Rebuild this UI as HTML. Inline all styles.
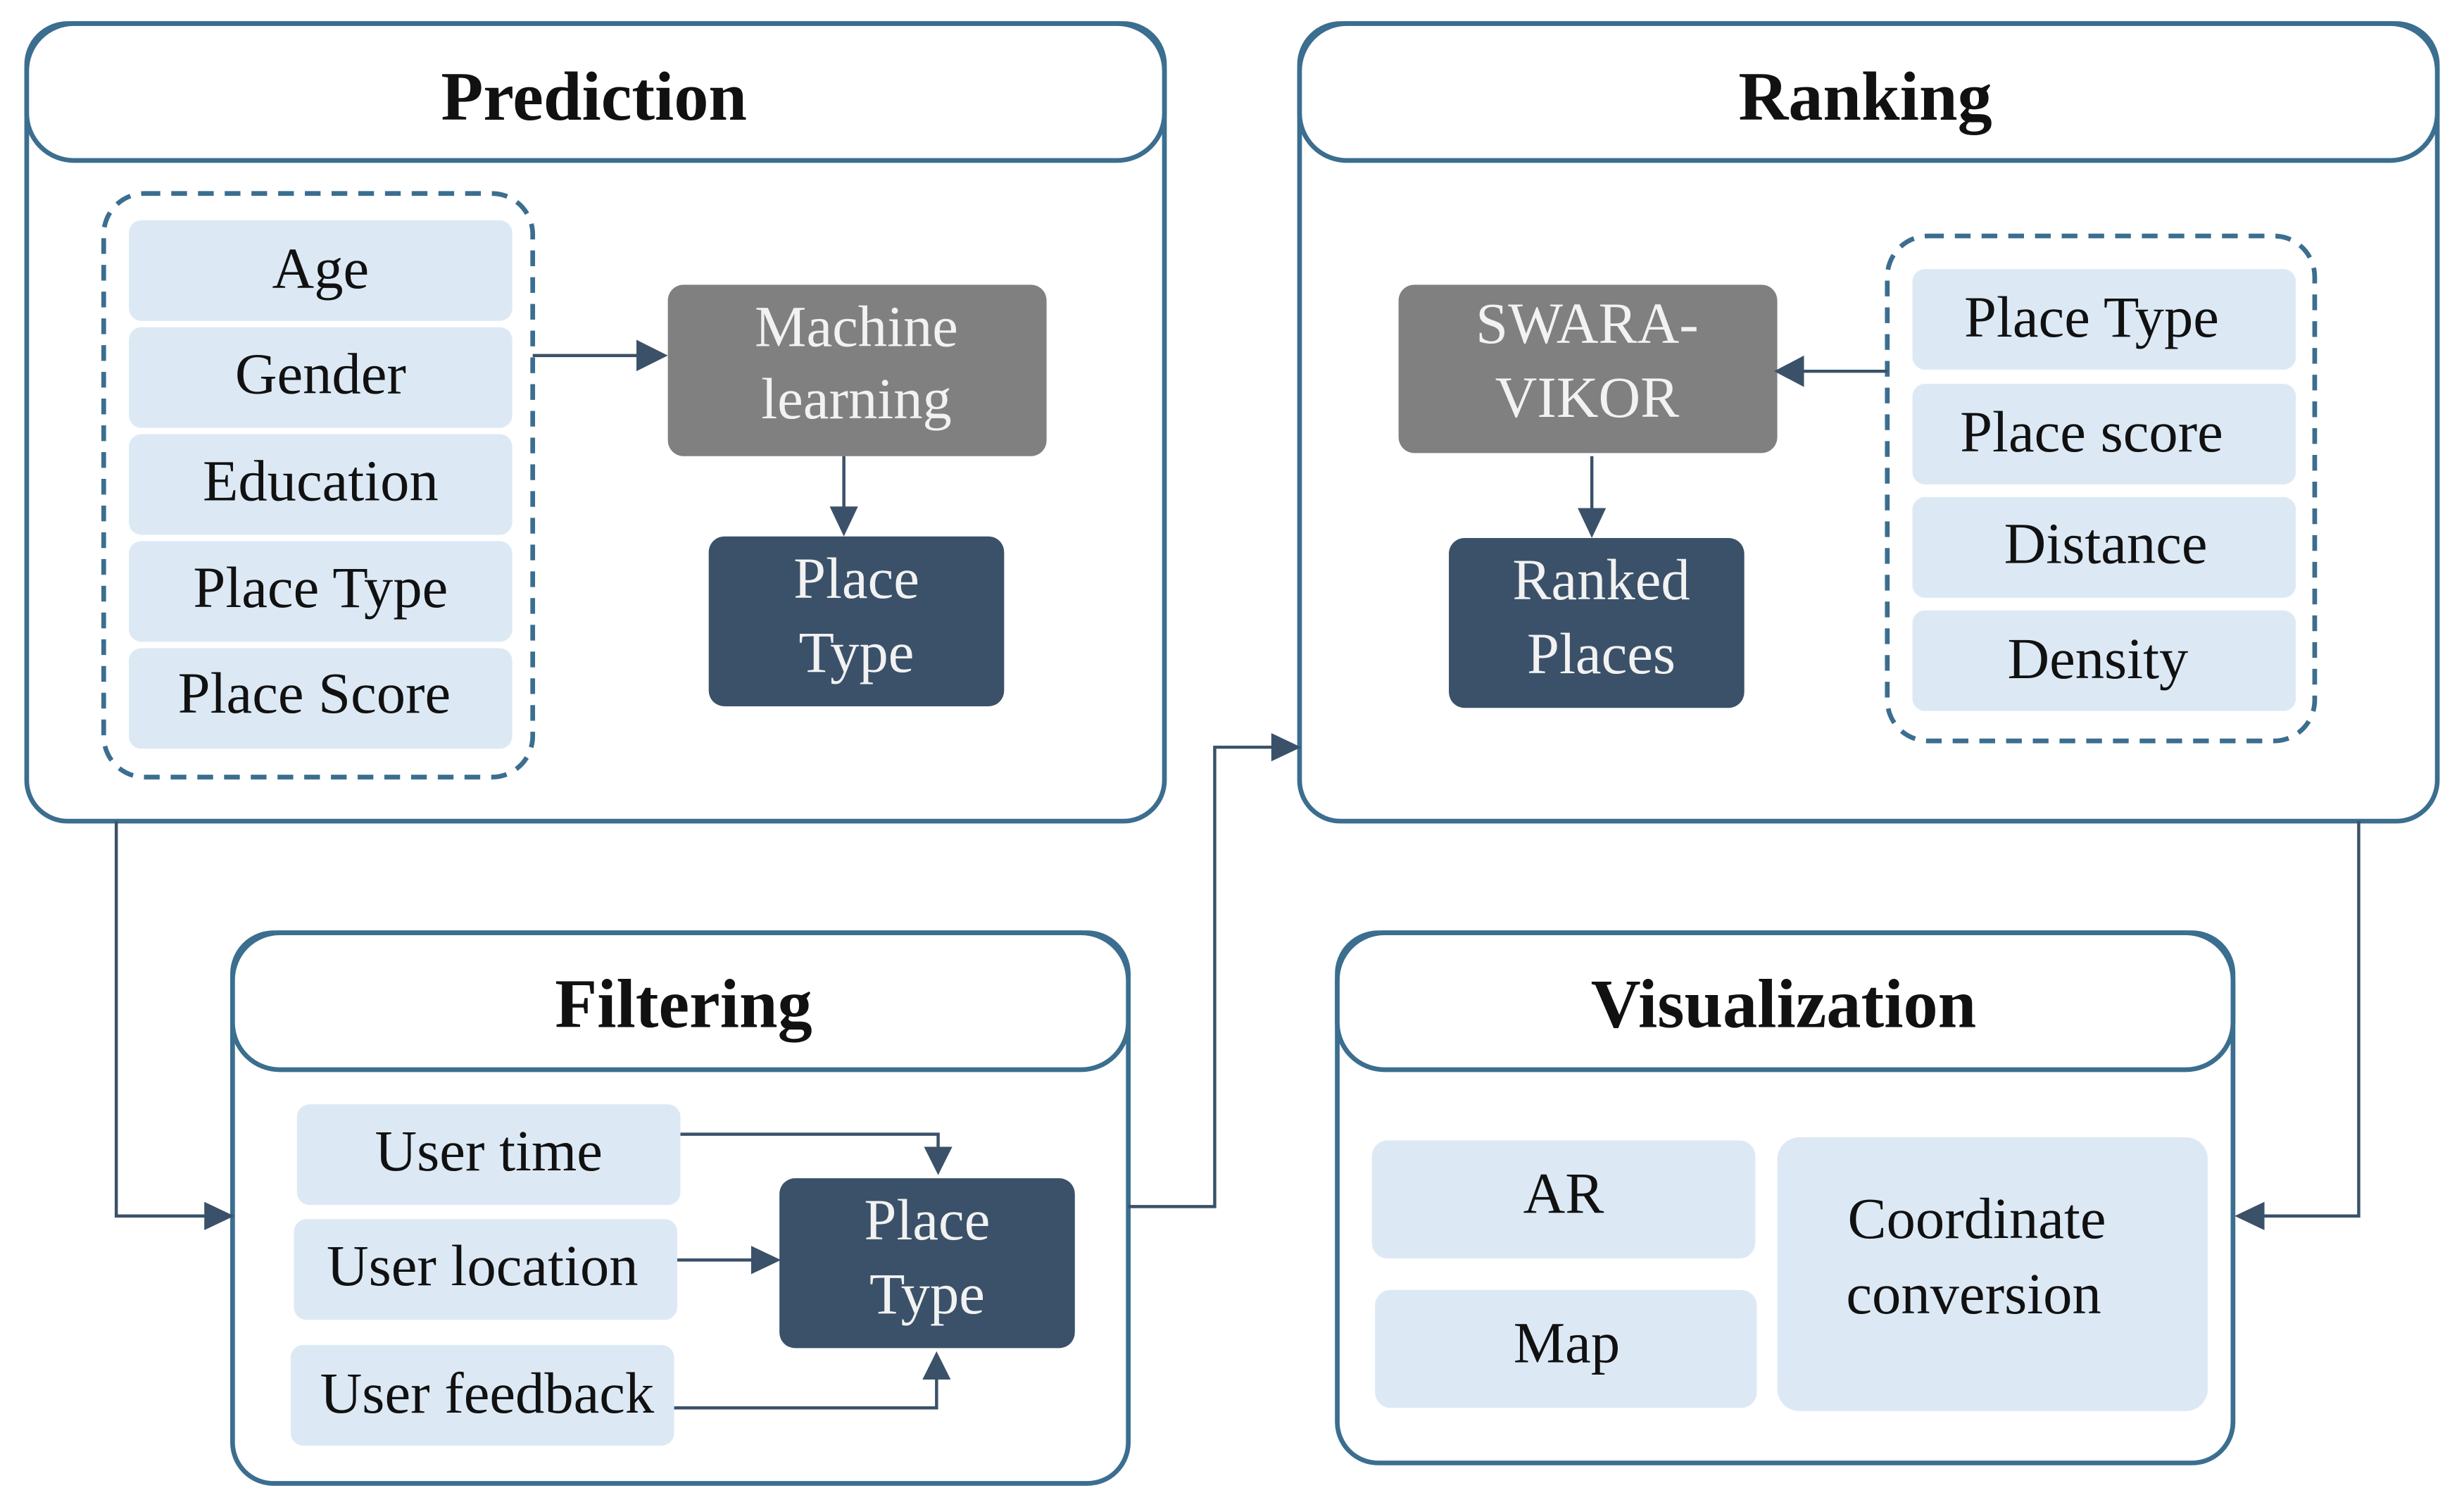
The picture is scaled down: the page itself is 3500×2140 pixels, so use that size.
<!DOCTYPE html>
<html><head><meta charset="utf-8"><style>
html,body{margin:0;padding:0;background:#fff;}
svg{display:block;}
text{font-family:"Liberation Serif","DejaVu Serif",serif;}
.t{font-size:37px;fill:#111;text-anchor:middle;}
.w{font-size:37px;fill:#f2f2f2;text-anchor:middle;}
.h{font-size:44px;font-weight:bold;fill:#111;text-anchor:middle;}
.p{fill:#fff;stroke:#3b6e8f;stroke-width:3;}
.i{fill:#dce9f5;}
.g{fill:#808080;}
.d{fill:#3b5169;}
.ds{fill:none;stroke:#3b6e8f;stroke-width:3;stroke-dasharray:10,7;}
.l{fill:none;stroke:#3b5169;stroke-width:2;}
.a{fill:#3b5169;}
</style></head><body>
<svg width="3500" height="2140" viewBox="0 0 1568 958" preserveAspectRatio="none" xmlns="http://www.w3.org/2000/svg">
<!-- Prediction -->
<rect class="p" x="17" y="15" width="724" height="507" rx="26"/>
<rect class="p" x="17" y="15" width="724" height="87" rx="30"/>
<text class="h" x="378" y="76">Prediction</text>
<rect class="ds" x="66" y="123" width="273" height="371" rx="26"/>
<rect class="i" x="82" y="140" width="244" height="64" rx="8"/><text class="t" x="204" y="183">Age</text>
<rect class="i" x="82" y="208" width="244" height="64" rx="8"/><text class="t" x="204" y="250">Gender</text>
<rect class="i" x="82" y="276" width="244" height="64" rx="8"/><text class="t" x="204" y="318">Education</text>
<rect class="i" x="82" y="344" width="244" height="64" rx="8"/><text class="t" x="204" y="386">Place Type</text>
<rect class="i" x="82" y="412" width="244" height="64" rx="8"/><text class="t" x="200" y="453">Place Score</text>
<rect class="g" x="425" y="181" width="241" height="109" rx="10"/>
<text class="w" x="545" y="220">Machine</text><text class="w" x="545" y="266">learning</text>
<rect class="d" x="451" y="341" width="188" height="108" rx="10"/>
<text class="w" x="545" y="380">Place</text><text class="w" x="545" y="427">Type</text>
<line class="l" x1="339" y1="226" x2="408" y2="226"/><polygon class="a" points="425,226 405,216 405,236"/>
<line class="l" x1="537" y1="290" x2="537" y2="325"/><polygon class="a" points="537,341 528,322 546,322"/>
<!-- Ranking -->
<rect class="p" x="827" y="15" width="724" height="507" rx="26"/>
<rect class="p" x="827" y="15" width="724" height="87" rx="30"/>
<text class="h" x="1187" y="76">Ranking</text>
<rect class="g" x="890" y="181" width="241" height="107" rx="10"/>
<text class="w" x="1010" y="218">SWARA-</text><text class="w" x="1010" y="265">VIKOR</text>
<rect class="d" x="922" y="342" width="188" height="108" rx="10"/>
<text class="w" x="1019" y="381">Ranked</text><text class="w" x="1019" y="428">Places</text>
<rect class="ds" x="1201" y="150" width="272" height="321" rx="26"/>
<rect class="i" x="1217" y="171" width="244" height="64" rx="8"/><text class="t" x="1331" y="214">Place Type</text>
<rect class="i" x="1217" y="244" width="244" height="64" rx="8"/><text class="t" x="1331" y="287">Place score</text>
<rect class="i" x="1217" y="316" width="244" height="64" rx="8"/><text class="t" x="1340" y="358">Distance</text>
<rect class="i" x="1217" y="388" width="244" height="64" rx="8"/><text class="t" x="1335" y="431">Density</text>
<line class="l" x1="1201" y1="236" x2="1145" y2="236"/><polygon class="a" points="1129,236 1148,226 1148,246"/>
<line class="l" x1="1013" y1="290" x2="1013" y2="326"/><polygon class="a" points="1013,342 1004,323 1022,323"/>
<!-- Filtering -->
<rect class="p" x="148" y="593" width="570" height="350" rx="26"/>
<rect class="p" x="148" y="593" width="570" height="87" rx="30"/>
<text class="h" x="435" y="653">Filtering</text>
<rect class="i" x="189" y="702" width="244" height="64" rx="8"/><text class="t" x="311" y="744">User time</text>
<rect class="i" x="187" y="775" width="244" height="64" rx="8"/><text class="t" x="307" y="817">User location</text>
<rect class="i" x="185" y="855" width="244" height="64" rx="8"/><text class="t" x="310" y="898">User feedback</text>
<rect class="d" x="496" y="749" width="188" height="108" rx="10"/>
<text class="w" x="590" y="788">Place</text><text class="w" x="590" y="835">Type</text>
<polyline class="l" points="433,721 597,721 597,732"/><polygon class="a" points="597,747 588,729 606,729"/>
<line class="l" x1="431" y1="801" x2="481" y2="801"/><polygon class="a" points="497,801 478,792 478,810"/>
<polyline class="l" points="429,895 596,895 596,874"/><polygon class="a" points="596,859 587,877 605,877"/>
<!-- Visualization -->
<rect class="p" x="851" y="593" width="570" height="337" rx="26"/>
<rect class="p" x="851" y="593" width="570" height="87" rx="30"/>
<text class="h" x="1135" y="653">Visualization</text>
<rect class="i" x="873" y="725" width="244" height="75" rx="10"/><text class="t" x="995" y="771">AR</text>
<rect class="i" x="875" y="820" width="243" height="75" rx="10"/><text class="t" x="997" y="866">Map</text>
<rect class="i" x="1131" y="723" width="274" height="174" rx="14"/>
<text class="t" x="1258" y="787">Coordinate</text><text class="t" x="1256" y="835">conversion</text>
<!-- connectors -->
<polyline class="l" points="74,522 74,773 132,773"/><polygon class="a" points="149,773 130,764 130,782"/>
<polyline class="l" points="718,767 773,767 773,475 811,475"/><polygon class="a" points="828,475 809,466 809,484"/>
<polyline class="l" points="1501,522 1501,773 1438,773"/><polygon class="a" points="1422,773 1441,764 1441,782"/>
</svg>
</body></html>
